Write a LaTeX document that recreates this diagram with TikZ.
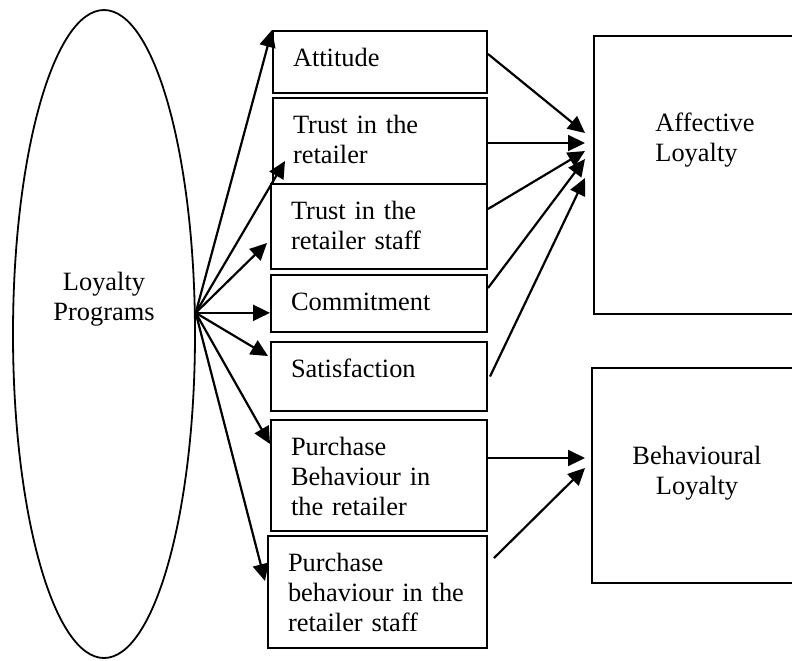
\documentclass[tikz,border=0pt]{standalone}
\usepackage{fontspec}
\setmainfont{Liberation Serif}
\usetikzlibrary{shapes.geometric,arrows.meta}
\tikzset{
	every node/.style={font=\fontsize{13.2}{15.2}\selectfont},
	arr/.style={-{Triangle[length=8.5pt,width=8pt]}, line width=1.1pt},
	factor/.style={draw, line width=1pt, anchor=north west, align=left, inner xsep=10pt, inner ysep=0pt, text height=17.5pt},
	outcome/.style={draw, line width=1pt, anchor=north west, inner sep=0pt, minimum width=108.5pt}
}
\begin{document}
\begin{tikzpicture}[x=0.5pt, y=-0.5pt]
	\useasboundingbox (0,0) rectangle (792,660);
	\node[ellipse, draw, line width=0.9pt, inner sep=0pt, minimum width=91pt, minimum height=324pt] (lp) at (104,334) {};
	\node[align=center, inner sep=0pt] (lpname) at (104,299) {Loyalty\\Programs};
	\node[factor, text width=87pt, text depth=13.5pt] (att) at (272,30) {Attitude};
	\node[factor, text width=87pt, text depth=25.5pt] (trr) at (272,97) {Trust in the\\retailer};
	\node[factor, text width=88pt, text depth=25pt] (trs) at (270,183) {Trust in the\\retailer staff};
	\node[factor, text width=88pt, text depth=11pt] (com) at (270,274) {Commitment};
	\node[factor, text width=88pt, text depth=17pt] (sat) at (270,341) {Satisfaction};
	\node[factor, text width=88pt, text depth=38pt] (pbr) at (270,419) {Purchase\\Behaviour in\\the retailer};
	\node[factor, text width=89.5pt, text depth=38.5pt] (pbs) at (267,535) {Purchase\\behaviour in the\\retailer staff};
	\node[outcome, minimum height=139pt] (aff) at (593,35) {};
	\node[anchor=west, align=left, inner sep=0pt] (affname) at (655,140) {Affective\\Loyalty};
	\node[outcome, minimum height=107.5pt] (beh) at (591,367) {};
	\node[align=center, inner sep=0pt] (behname) at (697,473) {Behavioural\\Loyalty};
	\draw[arr] (lp.13) -- (att.north west);
	\draw[arr] (lp.13) -- ([xshift=6.5pt,yshift=-10pt]trr.west);
	\draw[arr] (lp.13) -- ([xshift=-1.5pt,yshift=-8.25pt]trs.west);
	\draw[arr] (lp.13) -- (com.west |- lp.13);
	\draw[arr] (lp.13) -- ([xshift=-1pt,yshift=10.25pt]sat.west);
	\draw[arr] (lp.13) -- ([yshift=15.75pt]pbr.west);
	\draw[arr] (lp.13) -- ([xshift=-1pt,yshift=5.5pt]pbs.west);
	\draw[arr] ([yshift=4pt]att.east) -- ([xshift=-4pt,yshift=21pt]aff.west);
	\draw[arr] ([yshift=-1pt]trr.east) -- ([xshift=-4pt,yshift=16pt]aff.west);
	\draw[arr] ([yshift=8.75pt]trs.east) -- ([xshift=-4pt,yshift=12pt]aff.west);
	\draw[arr] ([yshift=7.75pt]com.east) -- ([xshift=-4pt,yshift=8pt]aff.west);
	\draw[arr] ([xshift=1pt]sat.east) -- ([xshift=-4pt,yshift=-1.5pt]aff.west);
	\draw[arr] ([yshift=8.75pt]pbr.east) -- ([xshift=-3pt,yshift=8.75pt]beh.west);
	\draw[arr] ([xshift=3pt,yshift=17pt]pbs.east) -- ([xshift=-3pt,yshift=3.75pt]beh.west);
\end{tikzpicture}
\end{document}
